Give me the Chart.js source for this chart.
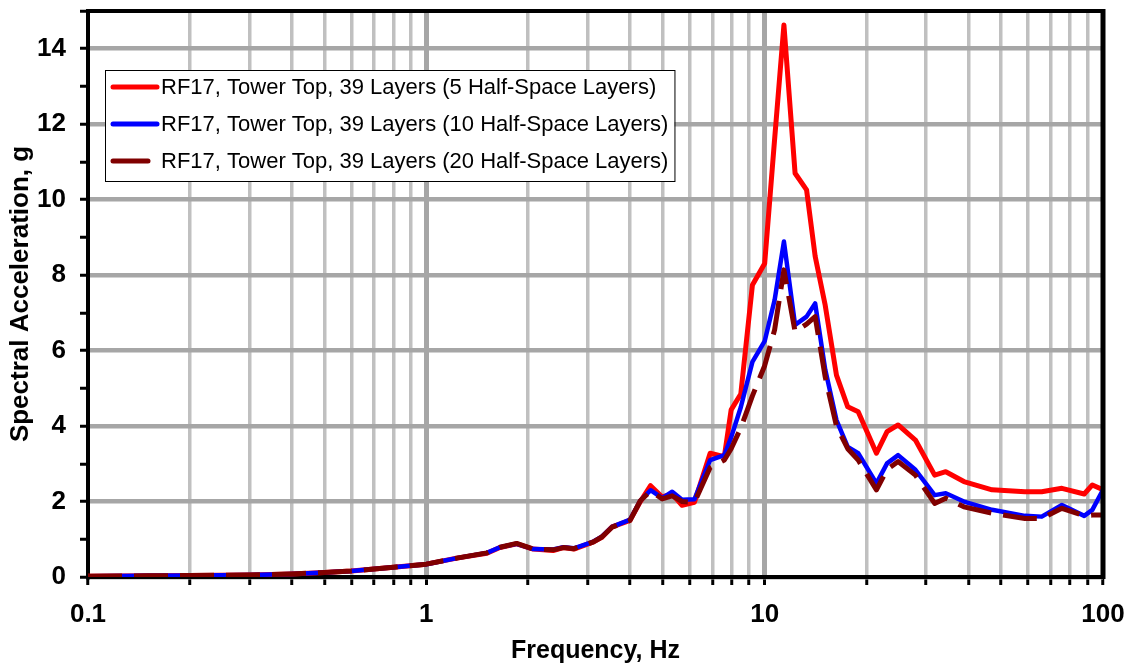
<!DOCTYPE html>
<html>
<head>
<meta charset="utf-8">
<script src="https://cdn.jsdelivr.net/npm/chart.js@4/dist/chart.umd.min.js"></script>
<style>
  body { margin: 0; background: #fff; }
</style>
</head>
<body>
<canvas id="espectro" width="1130" height="669"></canvas>
<script>
// frequencies (Hz) shared by the three curves
const freq = [0.1, 0.15, 0.2, 0.3, 0.4, 0.5, 0.6, 0.7, 0.8, 1.0,
  1.23, 1.51, 1.65, 1.85, 2.07, 2.37, 2.54, 2.73, 3.12, 3.3,
  3.54, 4.0, 4.29, 4.6, 4.98, 5.33, 5.7, 6.2, 6.9, 7.6,
  7.96, 8.5, 9.2, 10.0, 10.7, 11.4, 12.3, 13.3, 14.1, 15.1,
  16.3, 17.6, 18.9, 21.4, 23.0, 24.8, 27.9, 31.8, 34.3, 38.8,
  47, 58.8, 65.9, 75.6, 88, 93, 100];

const hs5 = [0.02, 0.03, 0.04, 0.05, 0.08, 0.12, 0.16, 0.21, 0.26, 0.34,
  0.50, 0.63, 0.78, 0.88, 0.74, 0.70, 0.78, 0.74, 0.93, 1.05,
  1.33, 1.50, 2.0, 2.42, 2.12, 2.2, 1.9, 1.98, 3.28, 3.19,
  4.43, 4.85, 7.74, 8.31, 11.6, 14.63, 10.7, 10.26, 8.5, 7.2,
  5.35, 4.51, 4.38, 3.28, 3.85, 4.03, 3.63, 2.7, 2.79, 2.53,
  2.31, 2.26, 2.26, 2.35, 2.2, 2.44, 2.31];

const hs10 = [0.02, 0.03, 0.04, 0.05, 0.08, 0.12, 0.16, 0.21, 0.26, 0.34,
  0.50, 0.64, 0.79, 0.88, 0.74, 0.73, 0.79, 0.76, 0.94, 1.07,
  1.33, 1.52, 2.02, 2.3, 2.09, 2.26, 2.05, 2.06, 3.1, 3.23,
  3.7, 4.5, 5.7, 6.25, 7.34, 8.89, 6.68, 6.9, 7.25, 5.5,
  4.16, 3.45, 3.28, 2.48, 3.01, 3.23, 2.84, 2.17, 2.22, 2.0,
  1.78, 1.62, 1.6, 1.91, 1.62, 1.78, 2.31];

const hs20 = [0.02, 0.03, 0.04, 0.05, 0.08, 0.12, 0.16, 0.21, 0.26, 0.34,
  0.50, 0.64, 0.79, 0.89, 0.74, 0.72, 0.78, 0.75, 0.93, 1.06,
  1.32, 1.5, 2.02, 2.28, 2.07, 2.15, 2.0, 1.98, 2.9, 3.1,
  3.4, 3.95, 4.8, 5.6, 6.55, 8.14, 6.5, 6.7, 6.9, 5.3,
  4.0, 3.4, 3.1, 2.31, 2.85, 3.06, 2.7, 1.95, 2.09, 1.86,
  1.69, 1.55, 1.55, 1.82, 1.62, 1.64, 1.64];

const nombres = [
  'RF17, Tower Top, 39 Layers (5 Half-Space Layers)',
  'RF17, Tower Top, 39 Layers (10 Half-Space Layers)',
  'RF17, Tower Top, 39 Layers (20 Half-Space Layers)'
];

const xTicks = [0.1, 0.2, 0.3, 0.4, 0.5, 0.6, 0.7, 0.8, 0.9,
  1, 2, 3, 4, 5, 6, 7, 8, 9,
  10, 20, 30, 40, 50, 60, 70, 80, 90, 100];
const xLabels = [0.1, 1, 10, 100];
const yTicks = [0, 1, 2, 3, 4, 5, 6, 7, 8, 9, 10, 11, 12, 13, 14, 15];
const yLabels = [0, 2, 4, 6, 8, 10, 12, 14];

const FAMILIA = "'Liberation Sans', Arial, sans-serif";

function puntos(vals) {
  return freq.map((f, i) => ({ x: f, y: vals[i] }));
}

// top + right frame and the boxed legend inside the plot
const marco = {
  id: 'marco',
  afterDatasetsDraw(chart) {
    const { ctx, chartArea: a } = chart;
    ctx.save();
    ctx.strokeStyle = '#000';
    ctx.lineWidth = 4;
    ctx.beginPath();
    ctx.moveTo(a.left, a.top);
    ctx.lineTo(a.right, a.top);
    ctx.stroke();
    ctx.lineWidth = 5;
    ctx.beginPath();
    ctx.moveTo(a.right, a.top - 2);
    ctx.lineTo(a.right, a.bottom + 2);
    ctx.stroke();
    ctx.restore();
  },
  afterDraw(chart) {
    const { ctx, chartArea: a } = chart;
    const sets = chart.data.datasets;
    ctx.save();
    ctx.font = '22px ' + FAMILIA;
    let ancho = 0;
    sets.forEach(d => { ancho = Math.max(ancho, ctx.measureText(d.label).width); });
    const x0 = a.left + 17, y0 = a.top + 59;
    const w = 58 + ancho + 4, h = 111;
    ctx.fillStyle = '#fff';
    ctx.fillRect(x0, y0, w, h);
    ctx.strokeStyle = '#000';
    ctx.lineWidth = 1;
    ctx.strokeRect(x0 + 0.5, y0 + 0.5, w, h);
    sets.forEach((d, i) => {
      const yy = y0 + 17 + i * 37;
      ctx.strokeStyle = d.borderColor;
      ctx.lineWidth = 5;
      ctx.lineCap = 'round';
      ctx.beginPath();
      ctx.moveTo(x0 + 8, yy);
      ctx.lineTo(x0 + (i == 2 ? 43 : 52), yy);
      ctx.stroke();
      ctx.fillStyle = '#000';
      ctx.textBaseline = 'middle';
      ctx.fillText(d.label, x0 + 56, yy + 1);
    });
    ctx.restore();
  }
};

Chart.defaults.font.family = FAMILIA;
Chart.defaults.color = '#000';

const ctx = document.getElementById('espectro').getContext('2d');
const grafica = new Chart(ctx, {
  type: 'line',
  data: {
    datasets: [
      { label: nombres[0], data: puntos(hs5), borderColor: '#ff0000', borderWidth: 5, order: 3 },
      { label: nombres[1], data: puntos(hs10), borderColor: '#0000ff', borderWidth: 4.5, order: 2 },
      { label: nombres[2], data: puntos(hs20), borderColor: '#800000', borderWidth: 5, borderDash: [34, 12], order: 1 }
    ]
  },
  options: {
    responsive: false,
    animation: false,
    elements: { point: { radius: 0 }, line: { tension: 0, borderJoinStyle: 'round' } },
    layout: { padding: { top: 11, right: 27, left: 0, bottom: 0 } },
    plugins: { legend: { display: false }, tooltip: { enabled: false } },
    scales: {
      x: {
        type: 'logarithmic',
        min: 0.1,
        max: 100,
        afterBuildTicks: s => { s.ticks = xTicks.map(v => ({ value: v })); },
        afterFit: s => { s.height = 92; s.paddingLeft = 0; s.paddingRight = 0; },
        ticks: {
          autoSkip: false,
          maxRotation: 0,
          padding: 14,
          font: { size: 26, weight: 'bold' },
          callback: v => xLabels.includes(v) ? String(v) : ''
        },
        grid: {
          color: c => (c.tick && (c.tick.value === 1 || c.tick.value === 10)) ? '#a6a6a6' : '#c0c0c0',
          lineWidth: c => (c.tick && (c.tick.value === 1 || c.tick.value === 10)) ? 5 : 3.5,
          tickColor: '#000',
          tickWidth: 3,
          tickLength: 8
        },
        border: { color: '#000', width: 4 },
        title: {
          display: true,
          text: 'Frequency, Hz',
          font: { size: 25, weight: 'bold' },
          padding: { top: 0, bottom: 3 }
        }
      },
      y: {
        min: 0,
        max: 15,
        afterBuildTicks: s => { s.ticks = yTicks.map(v => ({ value: v })); },
        afterFit: s => { s.width = 88; s.paddingTop = 0; s.paddingBottom = 0; },
        ticks: {
          autoSkip: false,
          padding: 14,
          font: { size: 26, weight: 'bold' },
          callback: v => yLabels.includes(v) ? String(v) : ''
        },
        grid: {
          color: c => (c.tick && yLabels.includes(c.tick.value)) ? '#a6a6a6' : 'rgba(0,0,0,0)',
          lineWidth: 4.5,
          tickColor: '#000',
          tickWidth: 3,
          tickLength: 8
        },
        border: { color: '#000', width: 4 },
        title: {
          display: true,
          text: 'Spectral Acceleration, g',
          font: { size: 26, weight: 'bold' },
          padding: { top: 5, bottom: 0 }
        }
      }
    }
  },
  plugins: [marco]
});
</script>
</body>
</html>
